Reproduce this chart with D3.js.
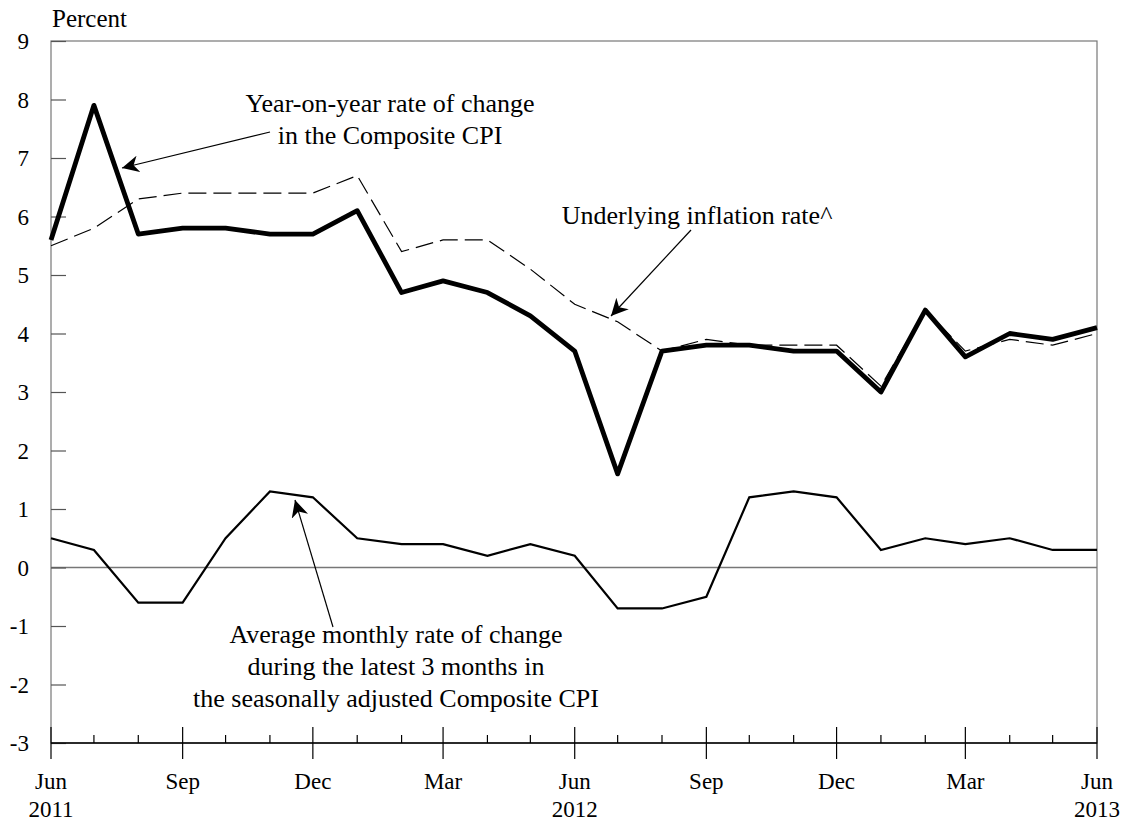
<!DOCTYPE html>
<html>
<head>
<meta charset="utf-8">
<script src="https://cdn.jsdelivr.net/npm/d3@7"></script>
<style>
  body { margin: 0; background: #fff; }
  text { font-family: "Liberation Serif", "Times New Roman", serif; fill: #000; }
</style>
</head>
<body>
<script>
// ------------------------------ data ------------------------------
const months = d3.range(25).map(i => new Date(2011, 5 + i, 1));
const compositeCPI = [5.6, 7.9, 5.7, 5.8, 5.8, 5.7, 5.7, 6.1, 4.7, 4.9, 4.7, 4.3, 3.7,
                      1.6, 3.7, 3.8, 3.8, 3.7, 3.7, 3.0, 4.4, 3.6, 4.0, 3.9, 4.1];
const underlying = [5.5, 5.8, 6.3, 6.4, 6.4, 6.4, 6.4, 6.7, 5.4, 5.6, 5.6, 5.1, 4.5,
                    4.2, 3.7, 3.9, 3.8, 3.8, 3.8, 3.1, 4.4, 3.7, 3.9, 3.8, 4.0];
const avgMonthly = [0.5, 0.3, -0.6, -0.6, 0.5, 1.3, 1.2, 0.5, 0.4, 0.4, 0.2, 0.4, 0.2,
                    -0.7, -0.7, -0.5, 1.2, 1.3, 1.2, 0.3, 0.5, 0.4, 0.5, 0.3, 0.3];
const yTicks = d3.range(-3, 10);
const monthNames = ["Jan","Feb","Mar","Apr","May","Jun","Jul","Aug","Sep","Oct","Nov","Dec"];

// ------------------------------ layout ------------------------------
const width = 1125, height = 821;
const pLeft = 51, pRight = 1097, pTop = 41, pBottom = 743;

const xScale = d3.scaleTime().domain([months[0], months[24]]).range([pLeft, pRight]);
const yScale = d3.scaleLinear().domain([-3, 9]).range([pBottom, pTop]);

const svg = d3.select("body").append("svg")
  .attr("width", width)
  .attr("height", height);

svg.append("defs").append("marker")
  .attr("id", "arrow")
  .attr("viewBox", "0 0 10 10")
  .attr("refX", 10).attr("refY", 5)
  .attr("markerWidth", 17).attr("markerHeight", 17)
  .attr("markerUnits", "userSpaceOnUse")
  .attr("orient", "auto")
  .append("path")
  .attr("d", "M0,0 L10,5 L0,10 L3,5 Z")
  .attr("fill", "#000");

// ------------------------------ frame ------------------------------
svg.append("rect")
  .attr("x", pLeft).attr("y", pTop)
  .attr("width", pRight - pLeft).attr("height", pBottom - pTop)
  .attr("fill", "none").attr("stroke", "#777").attr("stroke-width", 1.2);

// zero line
svg.append("line")
  .attr("x1", pLeft).attr("x2", pRight)
  .attr("y1", yScale(0)).attr("y2", yScale(0))
  .attr("stroke", "#777").attr("stroke-width", 1.5);

// ------------------------------ y axis ------------------------------
const yAxis = d3.axisRight(yScale).tickValues(yTicks).tickSize(15).tickFormat("");
const yg = svg.append("g").attr("transform", `translate(${pLeft},0)`).call(yAxis);
yg.select(".domain").remove();
yg.selectAll("line").attr("stroke", "#555").attr("stroke-width", 1.2);

svg.selectAll(".ylab").data(yTicks).enter().append("text")
  .attr("class", "ylab")
  .attr("x", 29).attr("y", d => yScale(d) + 8)
  .attr("text-anchor", "end")
  .style("font-size", "23px")
  .text(d => d);

svg.append("text").attr("x", 52).attr("y", 27).style("font-size", "25px").text("Percent");

// ------------------------------ x axis ------------------------------
svg.append("line")
  .attr("x1", pLeft).attr("x2", pRight)
  .attr("y1", pBottom).attr("y2", pBottom)
  .attr("stroke", "#000").attr("stroke-width", 1.3);

const xg = svg.append("g");
xg.selectAll("line").data(months).enter().append("line")
  .attr("x1", d => xScale(d)).attr("x2", d => xScale(d))
  .attr("y1", (d, i) => i % 3 === 0 ? pBottom - 16 : pBottom - 8)
  .attr("y2", (d, i) => i % 3 === 0 ? pBottom + 16 : pBottom)
  .attr("stroke", "#000").attr("stroke-width", 1.2);

const majors = months.filter((d, i) => i % 3 === 0);
xg.selectAll(".xlab").data(majors).enter().append("text")
  .attr("class", "xlab")
  .attr("x", d => xScale(d)).attr("y", 789)
  .attr("text-anchor", "middle")
  .style("font-size", "23px")
  .text(d => monthNames[d.getMonth()]);

xg.selectAll(".yearlab").data(majors.filter(d => d.getMonth() === 5)).enter().append("text")
  .attr("class", "yearlab")
  .attr("x", d => xScale(d)).attr("y", 817)
  .attr("text-anchor", "middle")
  .style("font-size", "23px")
  .text(d => d.getFullYear());

// ------------------------------ lines ------------------------------
const line = vals => d3.line().x((d, i) => xScale(months[i])).y(d => yScale(d))(vals);

svg.append("path").attr("d", line(avgMonthly))
  .attr("fill", "none").attr("stroke", "#000").attr("stroke-width", 2.2)
  .attr("stroke-linejoin", "miter");

svg.append("path").attr("d", line(underlying))
  .attr("fill", "none").attr("stroke", "#000").attr("stroke-width", 1.2)
  .attr("stroke-dasharray", "18,7");

svg.append("path").attr("d", line(compositeCPI))
  .attr("fill", "none").attr("stroke", "#000").attr("stroke-width", 4.8)
  .attr("stroke-linejoin", "round");

// ------------------------------ annotations ------------------------------
const annot = (lines, x, y0) => {
  const t = svg.append("text").attr("text-anchor", "middle").style("font-size", "26px");
  lines.forEach((s, i) => t.append("tspan").attr("x", x).attr("y", y0 + i * 32).text(s));
};
const arrow = (x1, y1, x2, y2) => svg.append("line")
  .attr("x1", x1).attr("y1", y1).attr("x2", x2).attr("y2", y2)
  .attr("stroke", "#000").attr("stroke-width", 1.2)
  .attr("marker-end", "url(#arrow)");

annot(["Year-on-year rate of change", "in the Composite CPI"], 390, 112);
arrow(270, 132, 122, 168);

annot(["Underlying inflation rate^"], 697, 224);
arrow(691, 230, 611, 316);

annot(["Average monthly rate of change", "during the latest 3 months in", "the seasonally adjusted Composite CPI"], 396, 643);
arrow(333, 627, 295, 500);
</script>
</body>
</html>
